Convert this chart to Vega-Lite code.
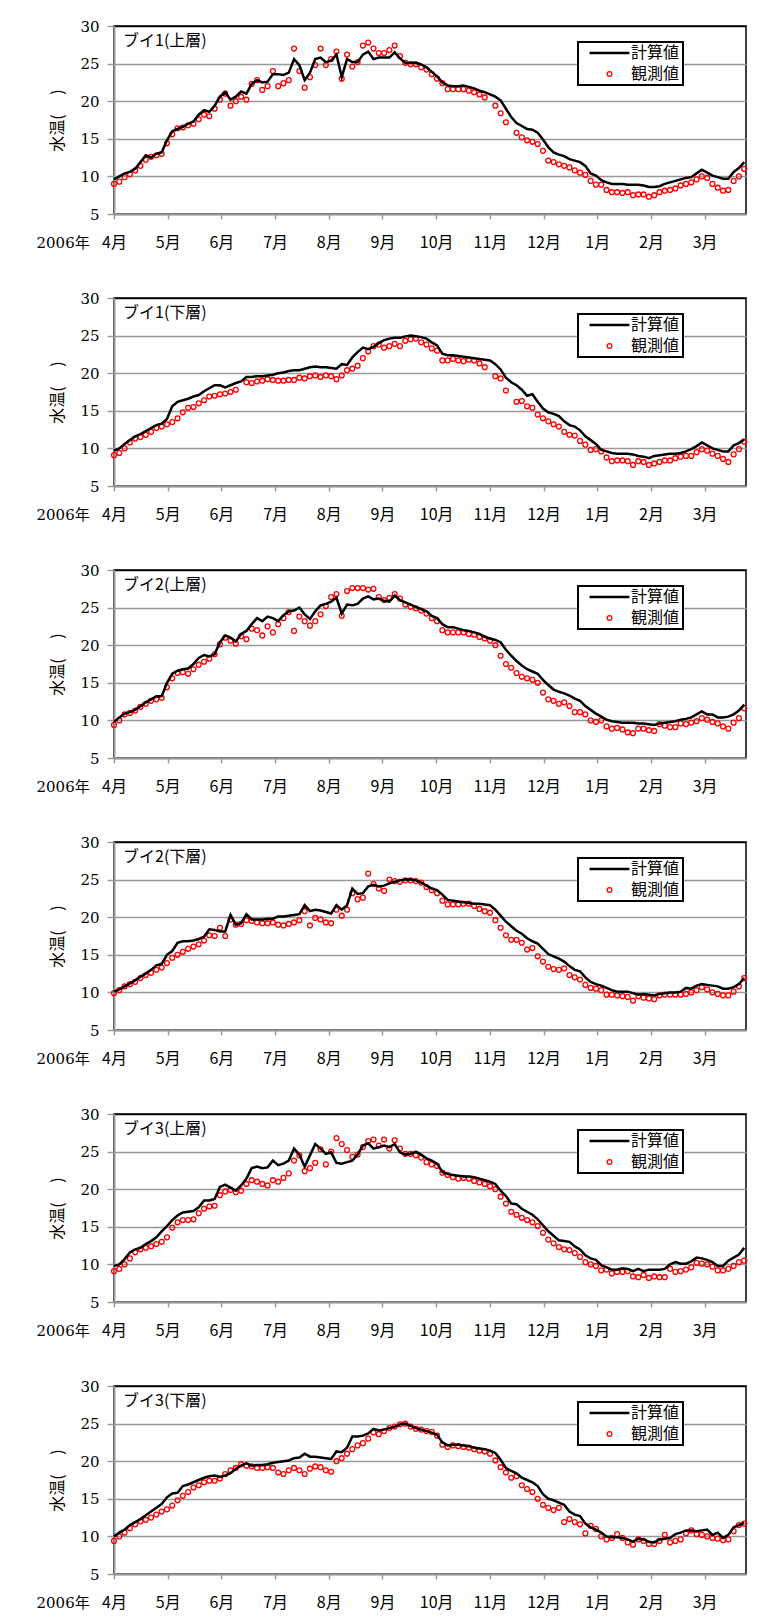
{
"$schema": "https://vega.github.io/schema/vega-lite/v6.json",
"background": "white",
"padding": {"left": 35, "top": 18, "right": 5, "bottom": 5},
"spacing": 39,
"config": {
  "view": {"stroke": "black", "strokeWidth": 1.5},
  "font": "Noto Sans CJK JP",
  "axis": {"domainColor": "#999999", "domainWidth": 2, "tickColor": "#999999", "tickWidth": 1.5, "labelColor": "black", "titleColor": "black", "titleFontWeight": "normal", "labelFlush": false, "labelOverlap": false},
  "axisX": {"grid": false, "tickSize": 5, "labelPadding": 23, "labelBaseline": "middle", "labelFont": "Noto Sans CJK JP", "labelFontSize": 16, "titleFont": "DejaVu Serif, Noto Sans CJK JP", "titleFontSize": 15, "titleX": -78, "titleY": 28, "titleAlign": "left", "titleBaseline": "middle"},
  "axisY": {"grid": true, "gridWidth": 1.5, "tickSize": 7, "labelPadding": 8, "labelFont": "DejaVu Serif", "labelFontSize": 15, "titleFont": "Noto Sans CJK JP", "titleFontSize": 16, "titlePadding": 14},
  "legend": {"orient": "none", "legendX": 464, "legendY": 16, "direction": "vertical", "labelFont": "Noto Sans CJK JP", "labelFontSize": 16, "labelColor": "black", "symbolType": "circle", "symbolSize": 22, "strokeColor": "#000000", "strokeWidth": 2, "fillColor": "#ffffff", "padding": 3, "rowPadding": 5, "cornerRadius": 0},
  "title": {"anchor": "start", "frame": "group", "font": "Noto Sans CJK JP", "fontSize": 16, "fontWeight": "normal", "color": "black", "baseline": "middle", "offset": -30, "dx": 9}
},
"datasets": {
"p1": [
{"d":0,"c":9.6,"o":9.0},{"d":3,"c":10.0,"o":9.3},{"d":6,"c":10.4,"o":9.9},{"d":9,"c":10.6,"o":10.3},{"d":12,"c":11.0,"o":10.8},{"d":15,"c":11.9,"o":11.4},{"d":18,"c":12.8,"o":12.2},{"d":21,"c":12.5,"o":12.6},{"d":24,"c":13.0,"o":12.8},{"d":27,"c":13.2,"o":13.0},
{"d":30,"c":14.8,"o":14.4},{"d":33,"c":16.0,"o":15.6},{"d":36,"c":16.3,"o":16.4},{"d":39,"c":16.6,"o":16.5},{"d":42,"c":17.0,"o":16.8},{"d":45,"c":17.3,"o":17.0},{"d":48,"c":18.2,"o":17.6},{"d":51,"c":18.8,"o":18.2},{"d":54,"c":18.6,"o":18.0},{"d":57,"c":19.4,"o":19.0},
{"d":60,"c":20.6,"o":20.2},{"d":63,"c":21.2,"o":21.0},{"d":66,"c":20.2,"o":19.4},{"d":69,"c":20.6,"o":20.0},{"d":72,"c":21.3,"o":20.6},{"d":75,"c":21.0,"o":20.2},{"d":78,"c":22.3,"o":22.3},{"d":81,"c":22.8,"o":22.8},{"d":84,"c":22.5,"o":21.5},{"d":87,"c":22.6,"o":22.0},
{"d":90,"c":23.6,"o":24.0},{"d":93,"c":23.6,"o":22.0},{"d":96,"c":23.5,"o":22.4},{"d":99,"c":23.8,"o":22.8},{"d":102,"c":25.6,"o":27.0},{"d":105,"c":24.8,"o":24.0},{"d":108,"c":22.8,"o":21.8},{"d":111,"c":23.8,"o":23.2},{"d":114,"c":25.6,"o":24.8},{"d":117,"c":25.8,"o":27.0},
{"d":120,"c":25.2,"o":24.8},{"d":123,"c":25.4,"o":25.6},{"d":126,"c":26.2,"o":26.6},{"d":129,"c":23.2,"o":23.0},{"d":132,"c":25.6,"o":26.2},{"d":135,"c":25.2,"o":24.6},{"d":138,"c":25.2,"o":25.2},{"d":141,"c":26.2,"o":27.4},{"d":144,"c":26.6,"o":27.8},{"d":147,"c":25.6,"o":27.0},
{"d":150,"c":25.8,"o":26.4},{"d":153,"c":25.8,"o":26.4},{"d":156,"c":25.8,"o":26.8},{"d":159,"c":26.5,"o":27.4},{"d":162,"c":25.7,"o":26.0},{"d":165,"c":25.1,"o":25.1},{"d":168,"c":25.1,"o":24.9},{"d":171,"c":25.1,"o":24.9},{"d":174,"c":24.9,"o":24.5},{"d":177,"c":24.5,"o":24.2},
{"d":180,"c":23.9,"o":23.6},{"d":183,"c":23.3,"o":23.0},{"d":186,"c":22.5,"o":22.4},{"d":189,"c":22.1,"o":21.6},{"d":192,"c":22.0,"o":21.6},{"d":195,"c":22.0,"o":21.6},{"d":198,"c":22.1,"o":21.6},{"d":201,"c":21.9,"o":21.4},{"d":204,"c":21.7,"o":21.2},{"d":207,"c":21.4,"o":20.9},
{"d":210,"c":21.2,"o":20.5},{"d":213,"c":20.9},{"d":216,"c":20.6,"o":19.4},{"d":219,"c":20.1,"o":18.4},{"d":222,"c":19.0,"o":17.2},{"d":225,"c":17.9},{"d":228,"c":17.1,"o":15.8},{"d":231,"c":16.7,"o":15.2},{"d":234,"c":16.3,"o":14.8},{"d":237,"c":16.2,"o":14.6},
{"d":240,"c":15.8,"o":14.3},{"d":243,"c":14.9,"o":13.4},{"d":246,"c":13.9,"o":12.1},{"d":249,"c":13.2,"o":11.9},{"d":252,"c":12.9,"o":11.6},{"d":255,"c":12.7,"o":11.4},{"d":258,"c":12.3,"o":11.2},{"d":261,"c":12.1,"o":10.8},{"d":264,"c":11.9,"o":10.5},{"d":267,"c":11.4,"o":10.2},
{"d":270,"c":10.4,"o":9.4},{"d":273,"c":10.1,"o":8.9},{"d":276,"c":9.5,"o":8.9},{"d":279,"c":9.2,"o":8.2},{"d":282,"c":9.0,"o":7.9},{"d":285,"c":9.0,"o":7.9},{"d":288,"c":9.0,"o":7.8},{"d":291,"c":8.9,"o":7.9},{"d":294,"c":8.9,"o":7.5},{"d":297,"c":8.9,"o":7.6},
{"d":300,"c":8.8,"o":7.6},{"d":303,"c":8.6,"o":7.3},{"d":306,"c":8.6,"o":7.5},{"d":309,"c":8.7,"o":7.9},{"d":312,"c":9.0,"o":8.1},{"d":315,"c":9.2,"o":8.2},{"d":318,"c":9.4,"o":8.4},{"d":321,"c":9.6,"o":8.8},{"d":324,"c":9.8,"o":9.0},{"d":327,"c":9.9,"o":9.2},
{"d":330,"c":10.4,"o":9.6},{"d":333,"c":10.9,"o":10.0},{"d":336,"c":10.5,"o":9.8},{"d":339,"c":10.1,"o":9.0},{"d":342,"c":9.9,"o":8.5},{"d":345,"c":9.7,"o":8.1},{"d":348,"c":9.7,"o":8.2},{"d":351,"c":10.6,"o":9.4},{"d":354,"c":11.1,"o":10.0},{"d":357,"c":11.9,"o":11.0}
],
"p2": [
{"d":0,"c":9.7,"o":9.1},{"d":3,"c":10.0,"o":9.4},{"d":6,"c":10.6,"o":10.0},{"d":9,"c":11.1,"o":10.8},{"d":12,"c":11.6,"o":11.3},{"d":15,"c":11.9,"o":11.5},{"d":18,"c":12.3,"o":11.8},{"d":21,"c":12.7,"o":12.2},{"d":24,"c":13.1,"o":12.7},{"d":27,"c":13.3,"o":12.9},
{"d":30,"c":13.9,"o":13.2},{"d":33,"c":15.6,"o":13.5},{"d":36,"c":16.2,"o":14.0},{"d":39,"c":16.4,"o":14.8},{"d":42,"c":16.6,"o":15.4},{"d":45,"c":16.9,"o":15.5},{"d":48,"c":17.1,"o":16.0},{"d":51,"c":17.6,"o":16.4},{"d":54,"c":18.0,"o":16.9},{"d":57,"c":18.4,"o":17.0},
{"d":60,"c":18.4,"o":17.2},{"d":63,"c":18.1,"o":17.3},{"d":66,"c":18.4,"o":17.5},{"d":69,"c":18.7,"o":17.8},{"d":72,"c":18.9},{"d":75,"c":19.5,"o":18.8},{"d":78,"c":19.5,"o":18.7},{"d":81,"c":19.6,"o":18.9},{"d":84,"c":19.6,"o":19.0},{"d":87,"c":19.7,"o":19.2},
{"d":90,"c":19.8,"o":19.1},{"d":93,"c":20.0,"o":19.0},{"d":96,"c":20.1,"o":19.0},{"d":99,"c":20.3,"o":19.1},{"d":102,"c":20.4,"o":19.1},{"d":105,"c":20.4,"o":19.4},{"d":108,"c":20.6,"o":19.3},{"d":111,"c":20.8,"o":19.6},{"d":114,"c":20.9,"o":19.7},{"d":117,"c":20.8,"o":19.5},
{"d":120,"c":20.8,"o":19.7},{"d":123,"c":20.7,"o":19.6},{"d":126,"c":20.6,"o":19.2},{"d":129,"c":21.2,"o":19.7},{"d":132,"c":21.1,"o":20.4},{"d":135,"c":22.1,"o":20.6},{"d":138,"c":22.8,"o":21.0},{"d":141,"c":23.4,"o":22.0},{"d":144,"c":23.2,"o":22.9},{"d":147,"c":23.5,"o":23.6},
{"d":150,"c":24.0,"o":23.8},{"d":153,"c":24.4,"o":23.4},{"d":156,"c":24.6,"o":23.6},{"d":159,"c":24.7,"o":23.9},{"d":162,"c":24.7,"o":23.6},{"d":165,"c":24.9,"o":24.3},{"d":168,"c":25.0,"o":24.5},{"d":171,"c":24.9,"o":24.6},{"d":174,"c":24.8,"o":24.1},{"d":177,"c":24.6,"o":23.8},
{"d":180,"c":24.1,"o":23.3},{"d":183,"c":23.7,"o":23.0},{"d":186,"c":22.6,"o":21.7},{"d":189,"c":22.4,"o":21.7},{"d":192,"c":22.4,"o":21.9},{"d":195,"c":22.3,"o":21.7},{"d":198,"c":22.2,"o":21.6},{"d":201,"c":22.1,"o":21.8},{"d":204,"c":22.0,"o":21.7},{"d":207,"c":21.9,"o":21.3},
{"d":210,"c":21.8,"o":20.8},{"d":213,"c":21.7},{"d":216,"c":21.2,"o":19.6},{"d":219,"c":20.5,"o":19.3},{"d":222,"c":19.4,"o":17.7},{"d":225,"c":18.8},{"d":228,"c":18.4,"o":16.2},{"d":231,"c":17.8,"o":16.3},{"d":234,"c":17.0,"o":15.6},{"d":237,"c":17.2,"o":15.4},
{"d":240,"c":16.2,"o":14.5},{"d":243,"c":15.3,"o":14.0},{"d":246,"c":14.8,"o":13.6},{"d":249,"c":14.6,"o":13.2},{"d":252,"c":14.3,"o":12.9},{"d":255,"c":13.6,"o":12.2},{"d":258,"c":13.1,"o":11.8},{"d":261,"c":12.9,"o":11.7},{"d":264,"c":12.4,"o":11.0},{"d":267,"c":11.6,"o":10.5},
{"d":270,"c":11.1,"o":9.8},{"d":273,"c":10.6,"o":9.9},{"d":276,"c":9.8,"o":9.6},{"d":279,"c":9.6,"o":8.8},{"d":282,"c":9.4,"o":8.3},{"d":285,"c":9.3,"o":8.4},{"d":288,"c":9.3,"o":8.4},{"d":291,"c":9.3,"o":8.3},{"d":294,"c":9.2,"o":7.8},{"d":297,"c":9.0,"o":8.3},
{"d":300,"c":8.9,"o":8.2},{"d":303,"c":8.7,"o":7.8},{"d":306,"c":9.0,"o":8.0},{"d":309,"c":9.1,"o":8.2},{"d":312,"c":9.2,"o":8.4},{"d":315,"c":9.3,"o":8.4},{"d":318,"c":9.3,"o":8.7},{"d":321,"c":9.4,"o":8.9},{"d":324,"c":9.6,"o":9.0},{"d":327,"c":9.9,"o":9.0},
{"d":330,"c":10.3,"o":9.5},{"d":333,"c":10.8,"o":9.9},{"d":336,"c":10.4,"o":9.7},{"d":339,"c":10.0,"o":9.3},{"d":342,"c":9.8,"o":9.0},{"d":345,"c":9.6,"o":8.6},{"d":348,"c":9.6,"o":8.2},{"d":351,"c":10.4,"o":9.2},{"d":354,"c":10.7,"o":9.9},{"d":357,"c":11.2,"o":10.9}
],
"p3": [
{"d":0,"c":9.8,"o":9.4},{"d":3,"c":10.4,"o":10.0},{"d":6,"c":10.9,"o":10.8},{"d":9,"c":11.1,"o":11.0},{"d":12,"c":11.4,"o":11.3},{"d":15,"c":11.9,"o":11.8},{"d":18,"c":12.4,"o":12.2},{"d":21,"c":12.8,"o":12.6},{"d":24,"c":13.2,"o":12.8},{"d":27,"c":13.2,"o":13.0},
{"d":30,"c":15.0,"o":14.4},{"d":33,"c":16.2,"o":15.6},{"d":36,"c":16.6,"o":16.3},{"d":39,"c":16.8,"o":16.4},{"d":42,"c":16.9,"o":16.2},{"d":45,"c":17.5,"o":16.8},{"d":48,"c":18.3,"o":17.4},{"d":51,"c":18.7,"o":17.8},{"d":54,"c":18.5,"o":18.2},{"d":57,"c":18.8,"o":18.8},
{"d":60,"c":20.4,"o":20.1},{"d":63,"c":21.3,"o":21.0},{"d":66,"c":21.0,"o":20.6},{"d":69,"c":20.5,"o":20.2},{"d":72,"c":21.5,"o":21.2},{"d":75,"c":21.9,"o":20.8},{"d":78,"c":22.8,"o":22.2},{"d":81,"c":23.6,"o":22.0},{"d":84,"c":23.2,"o":21.3},{"d":87,"c":23.8,"o":22.5},
{"d":90,"c":23.6,"o":21.7},{"d":93,"c":23.2,"o":22.8},{"d":96,"c":24.0,"o":23.6},{"d":99,"c":24.5,"o":24.4},{"d":102,"c":24.6,"o":21.9},{"d":105,"c":25.0,"o":23.8},{"d":108,"c":24.1,"o":23.2},{"d":111,"c":23.5,"o":22.6},{"d":114,"c":24.5,"o":23.2},{"d":117,"c":25.3,"o":24.1},
{"d":120,"c":25.5,"o":25.2},{"d":123,"c":25.8,"o":26.4},{"d":126,"c":26.3,"o":26.8},{"d":129,"c":24.2,"o":23.9},{"d":132,"c":25.4,"o":27.2},{"d":135,"c":25.3,"o":27.6},{"d":138,"c":25.5,"o":27.6},{"d":141,"c":26.2,"o":27.6},{"d":144,"c":26.5,"o":27.4},{"d":147,"c":26.1,"o":27.5},
{"d":150,"c":26.2,"o":26.4},{"d":153,"c":25.9,"o":26.0},{"d":156,"c":25.8,"o":26.3},{"d":159,"c":26.6,"o":26.8},{"d":162,"c":26.0,"o":26.2},{"d":165,"c":25.7,"o":25.4},{"d":168,"c":25.4,"o":25.1},{"d":171,"c":25.1,"o":24.9},{"d":174,"c":24.8,"o":24.6},{"d":177,"c":24.5,"o":24.2},
{"d":180,"c":23.9,"o":23.6},{"d":183,"c":23.6,"o":23.2},{"d":186,"c":22.8,"o":22.0},{"d":189,"c":22.4,"o":21.7},{"d":192,"c":22.4,"o":21.7},{"d":195,"c":22.2,"o":21.7},{"d":198,"c":22.0,"o":21.7},{"d":201,"c":21.9,"o":21.5},{"d":204,"c":21.7,"o":21.4},{"d":207,"c":21.5,"o":21.1},
{"d":210,"c":21.1,"o":20.9},{"d":213,"c":20.9,"o":20.6},{"d":216,"c":20.7,"o":20.0},{"d":219,"c":20.4,"o":18.6},{"d":222,"c":19.4,"o":17.5},{"d":225,"c":18.6,"o":17.0},{"d":228,"c":17.9,"o":16.3},{"d":231,"c":17.3,"o":15.8},{"d":234,"c":16.8,"o":15.6},{"d":237,"c":16.5,"o":15.4},
{"d":240,"c":16.2,"o":15.0},{"d":243,"c":15.4,"o":13.7},{"d":246,"c":14.7,"o":12.8},{"d":249,"c":14.1,"o":12.6},{"d":252,"c":13.8,"o":12.2},{"d":255,"c":13.6,"o":12.4},{"d":258,"c":13.3,"o":11.9},{"d":261,"c":12.9,"o":11.1},{"d":264,"c":12.6,"o":11.1},{"d":267,"c":11.9,"o":10.8},
{"d":270,"c":11.4,"o":10.0},{"d":273,"c":10.9,"o":9.8},{"d":276,"c":10.5,"o":10.0},{"d":279,"c":10.1,"o":9.2},{"d":282,"c":9.9,"o":8.9},{"d":285,"c":9.8,"o":9.0},{"d":288,"c":9.7,"o":8.8},{"d":291,"c":9.7,"o":8.4},{"d":294,"c":9.7,"o":8.3},{"d":297,"c":9.6,"o":8.9},
{"d":300,"c":9.6,"o":8.9},{"d":303,"c":9.5,"o":8.7},{"d":306,"c":9.4,"o":8.6},{"d":309,"c":9.6,"o":9.5},{"d":312,"c":9.7,"o":9.3},{"d":315,"c":9.8,"o":9.1},{"d":318,"c":9.9,"o":9.1},{"d":321,"c":10.1,"o":9.6},{"d":324,"c":10.2,"o":9.5},{"d":327,"c":10.4,"o":9.7},
{"d":330,"c":10.8,"o":9.9},{"d":333,"c":11.2,"o":10.3},{"d":336,"c":10.8,"o":10.1},{"d":339,"c":10.8,"o":9.8},{"d":342,"c":10.4,"o":9.6},{"d":345,"c":10.4,"o":9.2},{"d":348,"c":10.5,"o":8.9},{"d":351,"c":10.8,"o":9.7},{"d":354,"c":11.3,"o":10.3},{"d":357,"c":12.1,"o":11.6}
],
"p4": [
{"d":0,"c":10.1,"o":9.9},{"d":3,"c":10.4,"o":10.3},{"d":6,"c":10.8,"o":10.8},{"d":9,"c":11.2,"o":11.1},{"d":12,"c":11.6,"o":11.4},{"d":15,"c":12.1,"o":11.9},{"d":18,"c":12.5,"o":12.3},{"d":21,"c":13.0,"o":12.6},{"d":24,"c":13.6,"o":13.0},{"d":27,"c":13.8,"o":13.3},
{"d":30,"c":15.0,"o":13.9},{"d":33,"c":15.5,"o":14.6},{"d":36,"c":16.6,"o":15.0},{"d":39,"c":16.8,"o":15.4},{"d":42,"c":16.8,"o":15.8},{"d":45,"c":16.9,"o":16.1},{"d":48,"c":17.1,"o":16.4},{"d":51,"c":17.4,"o":16.9},{"d":54,"c":18.4,"o":17.6},{"d":57,"c":18.3,"o":17.5},
{"d":60,"c":18.1,"o":18.6},{"d":63,"c":18.1,"o":17.5},{"d":66,"c":20.3,"o":19.7},{"d":69,"c":19.0,"o":19.0},{"d":72,"c":19.2,"o":19.1},{"d":75,"c":20.4,"o":19.6},{"d":78,"c":19.7,"o":19.5},{"d":81,"c":19.7,"o":19.3},{"d":84,"c":19.7,"o":19.2},{"d":87,"c":19.8,"o":19.2},
{"d":90,"c":19.8,"o":19.3},{"d":93,"c":20.1,"o":19.0},{"d":96,"c":20.1,"o":18.9},{"d":99,"c":20.2,"o":19.1},{"d":102,"c":20.3,"o":19.3},{"d":105,"c":20.4,"o":19.6},{"d":108,"c":21.6,"o":20.8},{"d":111,"c":20.8,"o":18.9},{"d":114,"c":21.0,"o":19.9},{"d":117,"c":20.9,"o":19.7},
{"d":120,"c":20.7,"o":19.3},{"d":123,"c":20.5,"o":19.2},{"d":126,"c":21.6,"o":21.0},{"d":129,"c":21.0,"o":20.2},{"d":132,"c":21.6,"o":21.0},{"d":135,"c":23.8,"o":23.2},{"d":138,"c":23.1,"o":22.4},{"d":141,"c":23.2,"o":22.6},{"d":144,"c":24.1,"o":25.8},{"d":147,"c":24.3,"o":24.4},
{"d":150,"c":24.1,"o":23.8},{"d":153,"c":24.2,"o":23.5},{"d":156,"c":24.5,"o":25.0},{"d":159,"c":24.7,"o":24.8},{"d":162,"c":24.9,"o":24.7},{"d":165,"c":25.0,"o":24.9},{"d":168,"c":25.0,"o":24.9},{"d":171,"c":24.9,"o":24.8},{"d":174,"c":24.6,"o":24.6},{"d":177,"c":24.2,"o":24.0},
{"d":180,"c":23.8,"o":23.6},{"d":183,"c":23.6,"o":23.2},{"d":186,"c":23.0,"o":22.2},{"d":189,"c":22.3,"o":21.7},{"d":192,"c":22.2,"o":21.7},{"d":195,"c":22.1,"o":21.7},{"d":198,"c":22.0,"o":21.8},{"d":201,"c":21.9,"o":21.8},{"d":204,"c":21.8,"o":21.5},{"d":207,"c":21.8,"o":21.1},
{"d":210,"c":21.7,"o":20.8},{"d":213,"c":21.6,"o":20.6},{"d":216,"c":21.0,"o":19.6},{"d":219,"c":20.2,"o":18.6},{"d":222,"c":19.4,"o":17.6},{"d":225,"c":18.8,"o":17.0},{"d":228,"c":18.2,"o":17.0},{"d":231,"c":17.8,"o":16.6},{"d":234,"c":17.2,"o":15.7},{"d":237,"c":16.8,"o":15.9},
{"d":240,"c":16.5,"o":14.8},{"d":243,"c":15.8,"o":14.1},{"d":246,"c":15.1,"o":13.4},{"d":249,"c":14.8,"o":13.1},{"d":252,"c":14.5,"o":13.0},{"d":255,"c":14.1,"o":13.2},{"d":258,"c":13.5,"o":12.3},{"d":261,"c":13.0,"o":12.0},{"d":264,"c":12.8,"o":11.7},{"d":267,"c":12.0,"o":11.0},
{"d":270,"c":11.4,"o":10.6},{"d":273,"c":11.1,"o":10.5},{"d":276,"c":10.9,"o":10.3},{"d":279,"c":10.6,"o":9.7},{"d":282,"c":10.3,"o":9.7},{"d":285,"c":10.1,"o":9.6},{"d":288,"c":10.1,"o":9.5},{"d":291,"c":10.1,"o":9.4},{"d":294,"c":9.9,"o":8.9},{"d":297,"c":9.7,"o":9.5},
{"d":300,"c":9.8,"o":9.3},{"d":303,"c":9.7,"o":9.2},{"d":306,"c":9.6,"o":9.1},{"d":309,"c":9.8,"o":9.6},{"d":312,"c":9.9,"o":9.7},{"d":315,"c":10.0,"o":9.7},{"d":318,"c":10.0,"o":9.7},{"d":321,"c":10.1,"o":9.7},{"d":324,"c":10.6,"o":9.8},{"d":327,"c":10.5,"o":10.0},
{"d":330,"c":10.9,"o":10.3},{"d":333,"c":11.1,"o":10.7},{"d":336,"c":11.0,"o":10.4},{"d":339,"c":10.9,"o":10.0},{"d":342,"c":10.8,"o":9.8},{"d":345,"c":10.5,"o":9.6},{"d":348,"c":10.5,"o":9.6},{"d":351,"c":10.7,"o":10.1},{"d":354,"c":11.1,"o":10.8},{"d":357,"c":11.9,"o":11.9}
],
"p5": [
{"d":0,"c":9.8,"o":9.1},{"d":3,"c":10.0,"o":9.4},{"d":6,"c":10.7,"o":10.0},{"d":9,"c":11.6,"o":10.8},{"d":12,"c":12.0,"o":11.6},{"d":15,"c":12.2,"o":12.0},{"d":18,"c":12.7,"o":12.2},{"d":21,"c":13.1,"o":12.4},{"d":24,"c":13.6,"o":12.7},{"d":27,"c":14.4,"o":13.0},
{"d":30,"c":15.1,"o":13.6},{"d":33,"c":15.9,"o":14.9},{"d":36,"c":16.5,"o":15.6},{"d":39,"c":16.9,"o":15.9},{"d":42,"c":17.0,"o":15.9},{"d":45,"c":17.1,"o":16.0},{"d":48,"c":17.6,"o":16.8},{"d":51,"c":18.5,"o":17.4},{"d":54,"c":18.5,"o":17.7},{"d":57,"c":18.7,"o":17.8},
{"d":60,"c":20.3,"o":19.2},{"d":63,"c":20.6,"o":19.7},{"d":66,"c":20.2,"o":19.9},{"d":69,"c":19.8,"o":19.6},{"d":72,"c":20.5,"o":19.8},{"d":75,"c":21.4,"o":20.7},{"d":78,"c":22.8,"o":21.2},{"d":81,"c":23.0,"o":21.0},{"d":84,"c":22.8,"o":20.7},{"d":87,"c":22.9,"o":20.5},
{"d":90,"c":23.8,"o":21.2},{"d":93,"c":23.2,"o":21.0},{"d":96,"c":23.4,"o":21.5},{"d":99,"c":23.8,"o":22.1},{"d":102,"c":25.4,"o":23.8},{"d":105,"c":24.6,"o":24.5},{"d":108,"c":23.0,"o":22.4},{"d":111,"c":24.5,"o":22.8},{"d":114,"c":26.0,"o":23.5},{"d":117,"c":25.4,"o":25.3},
{"d":120,"c":24.7,"o":23.3},{"d":123,"c":24.9,"o":25.0},{"d":126,"c":23.5,"o":26.8},{"d":129,"c":23.4,"o":26.0},{"d":132,"c":23.6,"o":25.2},{"d":135,"c":23.8,"o":24.3},{"d":138,"c":24.6,"o":24.6},{"d":141,"c":25.8,"o":25.6},{"d":144,"c":26.1,"o":26.4},{"d":147,"c":25.4,"o":26.6},
{"d":150,"c":25.6,"o":25.8},{"d":153,"c":25.8,"o":26.6},{"d":156,"c":25.6,"o":25.4},{"d":159,"c":26.0,"o":26.5},{"d":162,"c":24.9,"o":25.4},{"d":165,"c":24.6,"o":24.7},{"d":168,"c":24.7,"o":24.7},{"d":171,"c":25.0,"o":24.5},{"d":174,"c":24.6,"o":24.2},{"d":177,"c":24.1,"o":23.6},
{"d":180,"c":23.8,"o":23.3},{"d":183,"c":23.4,"o":23.1},{"d":186,"c":22.3,"o":22.2},{"d":189,"c":22.0,"o":21.9},{"d":192,"c":21.9,"o":21.6},{"d":195,"c":21.8,"o":21.4},{"d":198,"c":21.7,"o":21.5},{"d":201,"c":21.7,"o":21.4},{"d":204,"c":21.6,"o":21.1},{"d":207,"c":21.4,"o":20.9},
{"d":210,"c":21.2,"o":20.7},{"d":213,"c":21.0,"o":20.4},{"d":216,"c":20.7,"o":20.0},{"d":219,"c":19.8,"o":19.0},{"d":222,"c":19.1,"o":18.1},{"d":225,"c":18.1,"o":17.0},{"d":228,"c":18.0,"o":16.6},{"d":231,"c":17.4,"o":16.2},{"d":234,"c":17.0,"o":15.9},{"d":237,"c":16.6,"o":15.6},
{"d":240,"c":16.0,"o":15.1},{"d":243,"c":15.2,"o":14.2},{"d":246,"c":14.4,"o":13.3},{"d":249,"c":13.8,"o":12.8},{"d":252,"c":13.2,"o":12.3},{"d":255,"c":13.1,"o":12.0},{"d":258,"c":13.0,"o":11.9},{"d":261,"c":12.4,"o":11.5},{"d":264,"c":12.0,"o":11.0},{"d":267,"c":11.2,"o":10.3},
{"d":270,"c":10.8,"o":10.0},{"d":273,"c":10.6,"o":9.8},{"d":276,"c":9.9,"o":9.2},{"d":279,"c":9.6,"o":9.3},{"d":282,"c":9.3,"o":8.8},{"d":285,"c":9.3,"o":9.0},{"d":288,"c":9.5,"o":9.0},{"d":291,"c":9.4,"o":9.1},{"d":294,"c":9.1,"o":8.4},{"d":297,"c":9.4,"o":8.3},
{"d":300,"c":9.1,"o":8.6},{"d":303,"c":9.3,"o":8.2},{"d":306,"c":9.3,"o":8.4},{"d":309,"c":9.3,"o":8.3},{"d":312,"c":9.4,"o":8.3},{"d":315,"c":10.0,"o":9.4},{"d":318,"c":10.3,"o":9.0},{"d":321,"c":10.1,"o":9.1},{"d":324,"c":10.1,"o":9.3},{"d":327,"c":10.4,"o":9.6},
{"d":330,"c":10.9,"o":10.2},{"d":333,"c":10.8,"o":10.1},{"d":336,"c":10.6,"o":10.0},{"d":339,"c":10.3,"o":9.7},{"d":342,"c":9.8,"o":9.2},{"d":345,"c":9.8,"o":9.2},{"d":348,"c":10.5,"o":9.4},{"d":351,"c":10.9,"o":9.8},{"d":354,"c":11.3,"o":10.3},{"d":357,"c":12.2,"o":10.5}
],
"p6": [
{"d":0,"c":10.0,"o":9.4},{"d":3,"c":10.5,"o":10.0},{"d":6,"c":10.9,"o":10.5},{"d":9,"c":11.5,"o":11.1},{"d":12,"c":11.9,"o":11.6},{"d":15,"c":12.3,"o":12.0},{"d":18,"c":12.8,"o":12.2},{"d":21,"c":13.3,"o":12.5},{"d":24,"c":13.8,"o":12.9},{"d":27,"c":14.3,"o":13.3},
{"d":30,"c":15.2,"o":13.6},{"d":33,"c":15.7,"o":14.1},{"d":36,"c":15.8,"o":14.8},{"d":39,"c":16.7,"o":15.4},{"d":42,"c":16.9,"o":15.9},{"d":45,"c":17.2,"o":16.5},{"d":48,"c":17.5,"o":16.8},{"d":51,"c":17.8,"o":17.2},{"d":54,"c":18.0,"o":17.4},{"d":57,"c":18.1,"o":17.4},
{"d":60,"c":17.9,"o":17.7},{"d":63,"c":18.1,"o":18.3},{"d":66,"c":18.4,"o":18.8},{"d":69,"c":19.0,"o":19.1},{"d":72,"c":19.4,"o":19.6},{"d":75,"c":19.7,"o":19.4},{"d":78,"c":19.4,"o":19.3},{"d":81,"c":19.5,"o":19.1},{"d":84,"c":19.5,"o":19.1},{"d":87,"c":19.6,"o":19.2},
{"d":90,"c":19.8,"o":19.1},{"d":93,"c":19.9,"o":18.5},{"d":96,"c":20.0,"o":18.3},{"d":99,"c":20.1,"o":18.8},{"d":102,"c":20.4,"o":19.1},{"d":105,"c":20.5,"o":18.8},{"d":108,"c":21.0,"o":18.3},{"d":111,"c":20.6,"o":19.0},{"d":114,"c":20.6,"o":19.3},{"d":117,"c":20.5,"o":19.2},
{"d":120,"c":20.4,"o":18.8},{"d":123,"c":20.3,"o":18.6},{"d":126,"c":21.3,"o":20.0},{"d":129,"c":21.2,"o":20.4},{"d":132,"c":21.8,"o":21.0},{"d":135,"c":23.3,"o":21.6},{"d":138,"c":23.3,"o":22.1},{"d":141,"c":23.4,"o":22.4},{"d":144,"c":23.7,"o":23.0},{"d":147,"c":24.3,"o":23.8},
{"d":150,"c":24.1,"o":23.6},{"d":153,"c":24.2,"o":24.0},{"d":156,"c":24.4,"o":24.4},{"d":159,"c":24.6,"o":24.6},{"d":162,"c":24.9,"o":24.9},{"d":165,"c":25.0,"o":25.0},{"d":168,"c":24.7,"o":24.6},{"d":171,"c":24.4,"o":24.3},{"d":174,"c":24.2,"o":24.2},{"d":177,"c":24.0,"o":24.0},
{"d":180,"c":23.8,"o":23.9},{"d":183,"c":23.5,"o":23.4},{"d":186,"c":22.5,"o":22.2},{"d":189,"c":22.1,"o":21.9},{"d":192,"c":22.2,"o":22.1},{"d":195,"c":22.2,"o":22.0},{"d":198,"c":22.1,"o":21.9},{"d":201,"c":22.0,"o":21.8},{"d":204,"c":21.8,"o":21.6},{"d":207,"c":21.7,"o":21.4},
{"d":210,"c":21.6,"o":21.3},{"d":213,"c":21.4,"o":21.0},{"d":216,"c":21.1,"o":20.1},{"d":219,"c":20.2,"o":19.2},{"d":222,"c":19.1,"o":18.5},{"d":225,"c":18.7,"o":17.8},{"d":228,"c":18.4,"o":18.0},{"d":231,"c":17.8,"o":16.8},{"d":234,"c":17.5,"o":16.3},{"d":237,"c":17.2,"o":15.9},
{"d":240,"c":16.7,"o":15.0},{"d":243,"c":15.6,"o":14.2},{"d":246,"c":15.0,"o":13.8},{"d":249,"c":14.8,"o":13.5},{"d":252,"c":14.5,"o":13.8},{"d":255,"c":14.2,"o":11.9},{"d":258,"c":13.3,"o":12.3},{"d":261,"c":12.9,"o":11.9},{"d":264,"c":12.7,"o":11.6},{"d":267,"c":11.7,"o":10.4},
{"d":270,"c":11.2,"o":11.4},{"d":273,"c":10.9,"o":11.0},{"d":276,"c":10.5,"o":10.0},{"d":279,"c":10.0,"o":9.6},{"d":282,"c":9.9,"o":9.8},{"d":285,"c":9.9,"o":10.3},{"d":288,"c":9.8,"o":9.8},{"d":291,"c":9.6,"o":9.2},{"d":294,"c":9.3,"o":8.9},{"d":297,"c":9.7,"o":9.6},
{"d":300,"c":9.6,"o":9.4},{"d":303,"c":9.3,"o":9.0},{"d":306,"c":9.2,"o":9.0},{"d":309,"c":9.6,"o":9.4},{"d":312,"c":9.7,"o":10.2},{"d":315,"c":9.8,"o":9.2},{"d":318,"c":10.3,"o":9.4},{"d":321,"c":10.5,"o":9.6},{"d":324,"c":10.8,"o":10.4},{"d":327,"c":10.8,"o":10.8},
{"d":330,"c":10.7,"o":10.3},{"d":333,"c":10.8,"o":10.2},{"d":336,"c":10.9,"o":10.0},{"d":339,"c":10.2,"o":9.8},{"d":342,"c":10.5,"o":9.7},{"d":345,"c":9.8,"o":9.5},{"d":348,"c":10.2,"o":9.6},{"d":351,"c":11.2,"o":10.7},{"d":354,"c":11.5,"o":11.5},{"d":357,"c":11.8,"o":11.7}
]
},
"resolve": {"scale": {"color": "independent"}, "legend": {"color": "independent"}},
"vconcat": [
{"data": {"name": "p1"}, "title": "ブイ1(上層)", "width": 632, "height": 188,
 "encoding": {"x": {"field": "d", "type": "quantitative", "title": "2006年", "scale": {"domain": [0, 358], "nice": false, "zero": false}, "axis": {"values": [0, 30.4167, 60.8333, 91.25, 121.6667, 152.0833, 182.5, 212.9167, 243.3333, 273.75, 304.1667, 334.5833], "labelExpr": "['4月','5月','6月','7月','8月','9月','10月','11月','12月','1月','2月','3月'][round(datum.value/30.4167)]"}}},
 "layer": [
  {"mark": {"type": "point", "shape": "circle", "filled": false, "size": 24, "strokeWidth": 1.3, "opacity": 1}, "encoding": {"y": {"field": "o", "type": "quantitative", "title": "水温(　 )", "scale": {"domain": [5, 30], "nice": false, "zero": false}, "axis": {"values": [5, 10, 15, 20, 25, 30], "tickCount": 6, "gridColor": {"condition": {"test": "datum.value >= 30", "value": "black"}, "value": "#999999"}}}, "color": {"datum": "観測値"}}},
  {"mark": {"type": "line", "strokeWidth": 2.5}, "encoding": {"y": {"field": "c", "type": "quantitative", "title": "水温(　 )", "axis": {"values": [5, 10, 15, 20, 25, 30], "tickCount": 6, "gridColor": {"condition": {"test": "datum.value >= 30", "value": "black"}, "value": "#999999"}}}, "color": {"datum": "計算値", "scale": {"domain": ["計算値", "観測値"], "range": ["black", "red"]}, "legend": {"title": null, "strokeColor": "#000000", "fillColor": "#ffffff", "padding": 3, "rowPadding": 5, "symbolOffset": 20.5, "labelOffset": 13.5, "labelExpr": "datum.label + '   '", "encode": {"symbols": {"update": {"shape": {"signal": "datum.value === '計算値' ? 'M-8.5,0H8.5' : 'circle'"}, "strokeWidth": {"signal": "datum.value === '計算値' ? 2.5 : 1.3"}, "stroke": {"signal": "datum.value === '計算値' ? 'black' : 'red'"}, "fill": {"value": "transparent"}}}}}}}}
 ]},
{"data": {"name": "p2"}, "title": "ブイ1(下層)", "width": 632, "height": 188,
 "encoding": {"x": {"field": "d", "type": "quantitative", "title": "2006年", "scale": {"domain": [0, 358], "nice": false, "zero": false}, "axis": {"values": [0, 30.4167, 60.8333, 91.25, 121.6667, 152.0833, 182.5, 212.9167, 243.3333, 273.75, 304.1667, 334.5833], "labelExpr": "['4月','5月','6月','7月','8月','9月','10月','11月','12月','1月','2月','3月'][round(datum.value/30.4167)]"}}},
 "layer": [
  {"mark": {"type": "point", "shape": "circle", "filled": false, "size": 24, "strokeWidth": 1.3, "opacity": 1}, "encoding": {"y": {"field": "o", "type": "quantitative", "title": "水温(　 )", "scale": {"domain": [5, 30], "nice": false, "zero": false}, "axis": {"values": [5, 10, 15, 20, 25, 30], "tickCount": 6, "gridColor": {"condition": {"test": "datum.value >= 30", "value": "black"}, "value": "#999999"}}}, "color": {"datum": "観測値"}}},
  {"mark": {"type": "line", "strokeWidth": 2.5}, "encoding": {"y": {"field": "c", "type": "quantitative", "title": "水温(　 )", "axis": {"values": [5, 10, 15, 20, 25, 30], "tickCount": 6, "gridColor": {"condition": {"test": "datum.value >= 30", "value": "black"}, "value": "#999999"}}}, "color": {"datum": "計算値", "scale": {"domain": ["計算値", "観測値"], "range": ["black", "red"]}, "legend": {"title": null, "strokeColor": "#000000", "fillColor": "#ffffff", "padding": 3, "rowPadding": 5, "symbolOffset": 20.5, "labelOffset": 13.5, "labelExpr": "datum.label + '   '", "encode": {"symbols": {"update": {"shape": {"signal": "datum.value === '計算値' ? 'M-8.5,0H8.5' : 'circle'"}, "strokeWidth": {"signal": "datum.value === '計算値' ? 2.5 : 1.3"}, "stroke": {"signal": "datum.value === '計算値' ? 'black' : 'red'"}, "fill": {"value": "transparent"}}}}}}}}
 ]},
{"data": {"name": "p3"}, "title": "ブイ2(上層)", "width": 632, "height": 188,
 "encoding": {"x": {"field": "d", "type": "quantitative", "title": "2006年", "scale": {"domain": [0, 358], "nice": false, "zero": false}, "axis": {"values": [0, 30.4167, 60.8333, 91.25, 121.6667, 152.0833, 182.5, 212.9167, 243.3333, 273.75, 304.1667, 334.5833], "labelExpr": "['4月','5月','6月','7月','8月','9月','10月','11月','12月','1月','2月','3月'][round(datum.value/30.4167)]"}}},
 "layer": [
  {"mark": {"type": "point", "shape": "circle", "filled": false, "size": 24, "strokeWidth": 1.3, "opacity": 1}, "encoding": {"y": {"field": "o", "type": "quantitative", "title": "水温(　 )", "scale": {"domain": [5, 30], "nice": false, "zero": false}, "axis": {"values": [5, 10, 15, 20, 25, 30], "tickCount": 6, "gridColor": {"condition": {"test": "datum.value >= 30", "value": "black"}, "value": "#999999"}}}, "color": {"datum": "観測値"}}},
  {"mark": {"type": "line", "strokeWidth": 2.5}, "encoding": {"y": {"field": "c", "type": "quantitative", "title": "水温(　 )", "axis": {"values": [5, 10, 15, 20, 25, 30], "tickCount": 6, "gridColor": {"condition": {"test": "datum.value >= 30", "value": "black"}, "value": "#999999"}}}, "color": {"datum": "計算値", "scale": {"domain": ["計算値", "観測値"], "range": ["black", "red"]}, "legend": {"title": null, "strokeColor": "#000000", "fillColor": "#ffffff", "padding": 3, "rowPadding": 5, "symbolOffset": 20.5, "labelOffset": 13.5, "labelExpr": "datum.label + '   '", "encode": {"symbols": {"update": {"shape": {"signal": "datum.value === '計算値' ? 'M-8.5,0H8.5' : 'circle'"}, "strokeWidth": {"signal": "datum.value === '計算値' ? 2.5 : 1.3"}, "stroke": {"signal": "datum.value === '計算値' ? 'black' : 'red'"}, "fill": {"value": "transparent"}}}}}}}}
 ]},
{"data": {"name": "p4"}, "title": "ブイ2(下層)", "width": 632, "height": 188,
 "encoding": {"x": {"field": "d", "type": "quantitative", "title": "2006年", "scale": {"domain": [0, 358], "nice": false, "zero": false}, "axis": {"values": [0, 30.4167, 60.8333, 91.25, 121.6667, 152.0833, 182.5, 212.9167, 243.3333, 273.75, 304.1667, 334.5833], "labelExpr": "['4月','5月','6月','7月','8月','9月','10月','11月','12月','1月','2月','3月'][round(datum.value/30.4167)]"}}},
 "layer": [
  {"mark": {"type": "point", "shape": "circle", "filled": false, "size": 24, "strokeWidth": 1.3, "opacity": 1}, "encoding": {"y": {"field": "o", "type": "quantitative", "title": "水温(　 )", "scale": {"domain": [5, 30], "nice": false, "zero": false}, "axis": {"values": [5, 10, 15, 20, 25, 30], "tickCount": 6, "gridColor": {"condition": {"test": "datum.value >= 30", "value": "black"}, "value": "#999999"}}}, "color": {"datum": "観測値"}}},
  {"mark": {"type": "line", "strokeWidth": 2.5}, "encoding": {"y": {"field": "c", "type": "quantitative", "title": "水温(　 )", "axis": {"values": [5, 10, 15, 20, 25, 30], "tickCount": 6, "gridColor": {"condition": {"test": "datum.value >= 30", "value": "black"}, "value": "#999999"}}}, "color": {"datum": "計算値", "scale": {"domain": ["計算値", "観測値"], "range": ["black", "red"]}, "legend": {"title": null, "strokeColor": "#000000", "fillColor": "#ffffff", "padding": 3, "rowPadding": 5, "symbolOffset": 20.5, "labelOffset": 13.5, "labelExpr": "datum.label + '   '", "encode": {"symbols": {"update": {"shape": {"signal": "datum.value === '計算値' ? 'M-8.5,0H8.5' : 'circle'"}, "strokeWidth": {"signal": "datum.value === '計算値' ? 2.5 : 1.3"}, "stroke": {"signal": "datum.value === '計算値' ? 'black' : 'red'"}, "fill": {"value": "transparent"}}}}}}}}
 ]},
{"data": {"name": "p5"}, "title": "ブイ3(上層)", "width": 632, "height": 188,
 "encoding": {"x": {"field": "d", "type": "quantitative", "title": "2006年", "scale": {"domain": [0, 358], "nice": false, "zero": false}, "axis": {"values": [0, 30.4167, 60.8333, 91.25, 121.6667, 152.0833, 182.5, 212.9167, 243.3333, 273.75, 304.1667, 334.5833], "labelExpr": "['4月','5月','6月','7月','8月','9月','10月','11月','12月','1月','2月','3月'][round(datum.value/30.4167)]"}}},
 "layer": [
  {"mark": {"type": "point", "shape": "circle", "filled": false, "size": 24, "strokeWidth": 1.3, "opacity": 1}, "encoding": {"y": {"field": "o", "type": "quantitative", "title": "水温(　 )", "scale": {"domain": [5, 30], "nice": false, "zero": false}, "axis": {"values": [5, 10, 15, 20, 25, 30], "tickCount": 6, "gridColor": {"condition": {"test": "datum.value >= 30", "value": "black"}, "value": "#999999"}}}, "color": {"datum": "観測値"}}},
  {"mark": {"type": "line", "strokeWidth": 2.5}, "encoding": {"y": {"field": "c", "type": "quantitative", "title": "水温(　 )", "axis": {"values": [5, 10, 15, 20, 25, 30], "tickCount": 6, "gridColor": {"condition": {"test": "datum.value >= 30", "value": "black"}, "value": "#999999"}}}, "color": {"datum": "計算値", "scale": {"domain": ["計算値", "観測値"], "range": ["black", "red"]}, "legend": {"title": null, "strokeColor": "#000000", "fillColor": "#ffffff", "padding": 3, "rowPadding": 5, "symbolOffset": 20.5, "labelOffset": 13.5, "labelExpr": "datum.label + '   '", "encode": {"symbols": {"update": {"shape": {"signal": "datum.value === '計算値' ? 'M-8.5,0H8.5' : 'circle'"}, "strokeWidth": {"signal": "datum.value === '計算値' ? 2.5 : 1.3"}, "stroke": {"signal": "datum.value === '計算値' ? 'black' : 'red'"}, "fill": {"value": "transparent"}}}}}}}}
 ]},
{"data": {"name": "p6"}, "title": "ブイ3(下層)", "width": 632, "height": 188,
 "encoding": {"x": {"field": "d", "type": "quantitative", "title": "2006年", "scale": {"domain": [0, 358], "nice": false, "zero": false}, "axis": {"values": [0, 30.4167, 60.8333, 91.25, 121.6667, 152.0833, 182.5, 212.9167, 243.3333, 273.75, 304.1667, 334.5833], "labelExpr": "['4月','5月','6月','7月','8月','9月','10月','11月','12月','1月','2月','3月'][round(datum.value/30.4167)]"}}},
 "layer": [
  {"mark": {"type": "point", "shape": "circle", "filled": false, "size": 24, "strokeWidth": 1.3, "opacity": 1}, "encoding": {"y": {"field": "o", "type": "quantitative", "title": "水温(　 )", "scale": {"domain": [5, 30], "nice": false, "zero": false}, "axis": {"values": [5, 10, 15, 20, 25, 30], "tickCount": 6, "gridColor": {"condition": {"test": "datum.value >= 30", "value": "black"}, "value": "#999999"}}}, "color": {"datum": "観測値"}}},
  {"mark": {"type": "line", "strokeWidth": 2.5}, "encoding": {"y": {"field": "c", "type": "quantitative", "title": "水温(　 )", "axis": {"values": [5, 10, 15, 20, 25, 30], "tickCount": 6, "gridColor": {"condition": {"test": "datum.value >= 30", "value": "black"}, "value": "#999999"}}}, "color": {"datum": "計算値", "scale": {"domain": ["計算値", "観測値"], "range": ["black", "red"]}, "legend": {"title": null, "strokeColor": "#000000", "fillColor": "#ffffff", "padding": 3, "rowPadding": 5, "symbolOffset": 20.5, "labelOffset": 13.5, "labelExpr": "datum.label + '   '", "encode": {"symbols": {"update": {"shape": {"signal": "datum.value === '計算値' ? 'M-8.5,0H8.5' : 'circle'"}, "strokeWidth": {"signal": "datum.value === '計算値' ? 2.5 : 1.3"}, "stroke": {"signal": "datum.value === '計算値' ? 'black' : 'red'"}, "fill": {"value": "transparent"}}}}}}}}
 ]}
]
}
